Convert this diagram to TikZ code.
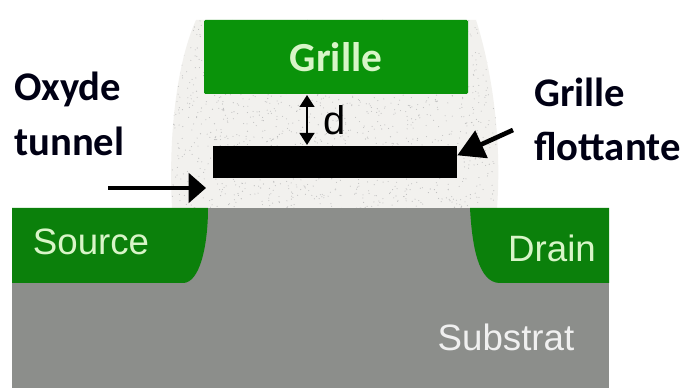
\documentclass[tikz,border=0pt]{standalone}
\usepackage{fontspec}
\setmainfont{Carlito}
\newfontfamily\armfont{Liberation Sans}
\usetikzlibrary{arrows.meta}
\definecolor{gatecol}{HTML}{0A930A}
\definecolor{wellcol}{HTML}{0B800B}
\definecolor{subcol}{HTML}{8C8E8B}
\definecolor{oxcol}{HTML}{F2F1EE}
\definecolor{lightcol}{HTML}{D8F5C8}
\tikzset{
    boldlabel/.style={font=\bfseries\fontsize{30.5}{36}\selectfont, text=black!92!blue, align=left, inner sep=0pt, anchor=west},
    welllabel/.style={font=\armfont\fontsize{27.5}{33}\selectfont, text=lightcol, inner sep=0pt},
    thickarrow/.style={-{Triangle[length=13pt,width=22pt]}, line width=3pt},
    darrow/.style={{Triangle[length=9pt,width=11pt]}-{Triangle[length=9pt,width=11pt]}, line width=1.8pt}
}
\begin{document}
\begin{tikzpicture}[x=0.75pt, y=-0.75pt]
    \useasboundingbox (0,0) rectangle (685,388);
    \fill[white] (0,0) rectangle (685,388);

    % Oxide around the gates
    \begin{scope}
        \path[clip] (172,208) .. controls (168,130) and (178,60) .. (196,20) -- (476,20)
            .. controls (492,70) and (502,140) .. (497,208) -- cycle;
        \fill[oxcol] (170,15) rectangle (505,210);
        \pgfmathsetseed{7}
        \foreach \i in {1,...,1500}
            \fill[black!25] (170+335*rnd,20+190*rnd) circle (0.55);
    \end{scope}

    % Substrate and wells
    \fill[subcol] (12,208) rectangle (609,388);
    \fill[wellcol] (12,208) -- (208,208) .. controls (208,245) and (200,283) .. (183,283) -- (12,283) -- cycle;
    \fill[wellcol] (609,208) -- (470,208) .. controls (472,245) and (478,283) .. (500,283) -- (609,283) -- cycle;

    % Gates
    \node[fill=gatecol, minimum width=198pt, minimum height=55.5pt, inner sep=0pt, rounded corners=1pt,
        font=\bfseries\fontsize{31}{37}\selectfont, text=lightcol] (grille) at (336,57) {Grille};
    \node[fill=black, minimum width=183pt, minimum height=24pt, inner sep=0pt] (flottante) at (335,162) {};

    % Labels
    \node[welllabel] (source) at (91,242) {Source};
    \node[welllabel] (drain) at (552,248) {Drain};
    \node[welllabel, text=black!6] (substrat) at (506,337) {Substrat};
    \node[font=\armfont\fontsize{30}{36}\selectfont, inner sep=0pt] (d) at (335,120) {d};
    \node[boldlabel] (oxyde) at (14,89) {Oxyde};
    \node[boldlabel] (tunnel) at (14,141) {tunnel};
    \node[boldlabel] (grlabel) at (534,92) {Grille};
    \node[boldlabel] (fllabel) at (534,146) {flottante};

    % Arrows
    \coordinate (tunnelstart) at (108,188);
    \coordinate (tunnelend) at (206,188);
    \coordinate (flstart) at (513,130);
    \coordinate (dtop) at (307,95);
    \coordinate (dbot) at (307,145);
    \draw[thickarrow] (tunnelstart) -- (tunnelend);
    \draw[thickarrow, line width=3.5pt, -{Triangle[length=20pt,width=22pt]}] (flstart) -- ([yshift=5pt]flottante.east);
    \draw[darrow] (dtop) -- (dbot);
\end{tikzpicture}
\end{document}
